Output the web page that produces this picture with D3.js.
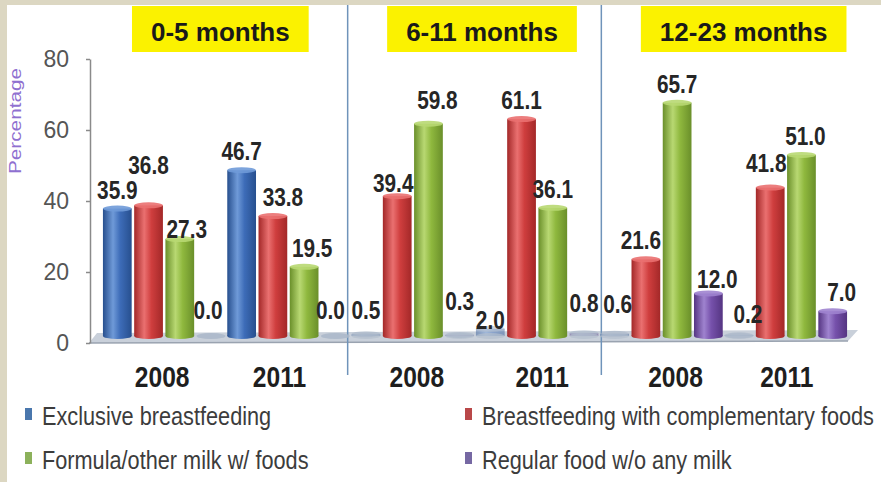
<!DOCTYPE html>
<html>
<head>
<meta charset="utf-8">
<script src="https://cdn.jsdelivr.net/npm/d3@7/dist/d3.min.js"></script>
<style>
  html, body { margin: 0; padding: 0; background: #dcd7c2; }
  svg { display: block; }
</style>
</head>
<body>
<script>
// ---- data ----
const ageGroups = ["0-5 months", "6-11 months", "12-23 months"];
const years = ["2008", "2011", "2008", "2011", "2008", "2011"];
const seriesNames = [
  "Exclusive breastfeeding",
  "Breastfeeding with complementary foods",
  "Formula/other milk w/ foods",
  "Regular food w/o any milk"
];
const exclusiveBf     = [35.9, 46.7, 0.5, 2.0, 0.6, 0.2];
const complementaryBf = [36.8, 33.8, 39.4, 61.1, 21.6, 41.8];
const formulaMilk     = [27.3, 19.5, 59.8, 36.1, 65.7, 51.0];
const regularFood     = [0.0, 0.0, 0.3, 0.8, 12.0, 7.0];
const yTicks = [0, 20, 40, 60, 80];
const yAxisTitle = "Percentage";

const seriesValues = [exclusiveBf, complementaryBf, formulaMilk, regularFood];

// ---- styling ----
const W = 881, H = 482;
const seriesColors = [
  { base: "#3d6cb8", dark: "#274f8e", light: "#6f9ad8" },
  { base: "#cf3e3e", dark: "#a32828", light: "#ea7070" },
  { base: "#8fb83e", dark: "#6a8f2a", light: "#b8d872" },
  { base: "#7651ab", dark: "#553582", light: "#9f83cf" }
];
const legendColors = ["#4a77ad", "#b94849", "#8cb15b", "#7668a3"];
const font = "'Liberation Sans', Arial, sans-serif";

// place a text node with a horizontally condensed face
function condensed(sel, x, yPos, k = 0.82) {
  return sel.attr("x", 0).attr("y", 0)
    .attr("transform", `translate(${x},${yPos}) scale(${k},1)`);
}

const svg = d3.select("body").append("svg")
  .attr("width", W).attr("height", H);

// white panel inside the beige frame
svg.append("rect").attr("x", 7).attr("y", 5).attr("width", W - 7).attr("height", H - 5)
  .attr("fill", "#ffffff");

// cylinder shading gradients
const defs = svg.append("defs");
seriesColors.forEach((c, i) => {
  const g = defs.append("linearGradient").attr("id", "grad" + i)
    .attr("x1", "0%").attr("x2", "100%").attr("y1", "0%").attr("y2", "0%");
  g.append("stop").attr("offset", "0%").attr("stop-color", c.dark);
  g.append("stop").attr("offset", "35%").attr("stop-color", c.light);
  g.append("stop").attr("offset", "60%").attr("stop-color", c.base);
  g.append("stop").attr("offset", "100%").attr("stop-color", c.dark);
});

// ---- scales ----
const groupIdx = d3.range(years.length);
const x0 = d3.scaleBand().domain(groupIdx).range([102, 848]).padding(0);
const x1 = d3.scaleBand().domain(d3.range(seriesNames.length))
  .range([0, x0.bandwidth()]).paddingInner(0.08).paddingOuter(0.03);
const y = d3.scaleLinear().domain([0, 80]).range([336, 52]);
// the value axis sits on the front plane, a little lower than the bars
const yFront = y.copy().range([y(0) + 7, y(80) + 7]);

// ---- floor ----
const fl = x0.range();
svg.append("polygon")
  .attr("points", [[fl[0] - 5, y(0) - 3], [fl[1] + 10, y(0) - 6], [fl[1], y(0) + 5], [fl[0] - 13, y(0) + 7]]
    .map(p => p.join(",")).join(" "))
  .attr("fill", "#c9d0da");
svg.append("line")
  .attr("x1", fl[0] - 13).attr("x2", fl[1]).attr("y1", y(0) + 7).attr("y2", y(0) + 5)
  .attr("stroke", "#9aa3b0").attr("stroke-width", 1.5);

// ---- y axis ----
const axisG = svg.append("g").attr("transform", "translate(90,0)")
  .call(d3.axisLeft(yFront).tickValues(yTicks).tickSize(4).tickSizeOuter(0).tickPadding(17)
    .tickFormat(d3.format("d")));
axisG.select(".domain").attr("stroke", "#8a8a8a").attr("stroke-width", 1.5);
axisG.selectAll(".tick line").attr("stroke", "#8a8a8a").attr("stroke-width", 1.5);
axisG.selectAll(".tick text")
  .attr("font-family", font).attr("font-size", 23).attr("fill", "#555555");

svg.append("text")
  .attr("transform", "translate(21,121) rotate(-90)")
  .attr("text-anchor", "middle")
  .attr("font-family", font).attr("font-size", 16)
  .attr("textLength", 106).attr("lengthAdjust", "spacingAndGlyphs")
  .attr("fill", "#8f70d0")
  .text(yAxisTitle);

// ---- separators between age groups ----
[2, 4].forEach((g, k) => {
  const sx = x0(g) + (k === 0 ? -3 : 2);
  svg.append("line").attr("x1", sx).attr("x2", sx).attr("y1", 5).attr("y2", 375)
    .attr("stroke", "#6f93ba").attr("stroke-width", 1.5);
});

// ---- bars ----
const bars = [];
seriesValues.forEach((vals, s) => {
  vals.forEach((v, g) => bars.push({ s, g, v }));
});
const bw = x1.bandwidth();
const capRy = 3;
const tiny = v => v < 3; // near-floor bars render faint

const barG = svg.append("g");
barG.selectAll("rect.bar").data(bars).join("rect")
  .attr("class", "bar")
  .attr("x", d => x0(d.g) + x1(d.s))
  .attr("y", d => y(d.v))
  .attr("width", bw)
  .attr("height", d => y(0) - y(d.v))
  .attr("fill", d => `url(#grad${d.s})`)
  .attr("opacity", d => tiny(d.v) ? 0.45 : 1);
// rounded base and top caps give the cylinder look
barG.selectAll("ellipse.base").data(bars).join("ellipse")
  .attr("cx", d => x0(d.g) + x1(d.s) + bw / 2)
  .attr("cy", y(0))
  .attr("rx", bw / 2).attr("ry", capRy)
  .attr("fill", d => tiny(d.v) ? "#b4bfcd" : `url(#grad${d.s})`)
  .attr("opacity", d => tiny(d.v) ? 0.7 : 1);
barG.selectAll("ellipse.cap").data(bars).join("ellipse")
  .attr("cx", d => x0(d.g) + x1(d.s) + bw / 2)
  .attr("cy", d => y(d.v))
  .attr("rx", bw / 2).attr("ry", capRy)
  .attr("fill", d => tiny(d.v) ? "#a9b6c8" : seriesColors[d.s].light)
  .attr("opacity", d => tiny(d.v) ? 0.6 : 0.9);

// ---- value labels ----
// small label shifts keep neighbouring labels from colliding
const labelShift = {
  "1-0": [0, -21], "2-0": [7, 9], "3-0": [-3, 0],
  "1-1": [10, 0], "2-1": [8, 0], "3-1": [-5, 0],
  "1-2": [-4, 6], "2-2": [9, -5], "3-2": [0, -9],
  "0-3": [0, 10], "3-3": [0, -7],
  "0-4": [3, -6], "1-4": [-5, 0], "3-4": [9, 5],
  "0-5": [9, 4], "1-5": [-4, -6], "2-5": [4, 0], "3-5": [9, 0]
};
const shiftOf = d => labelShift[d.s + "-" + d.g] || [0, 0];
svg.append("g").selectAll("text").data(bars).join("text")
  .each(function (d) {
    const lx = x0(d.g) + x1(d.s) + bw / 2 + shiftOf(d)[0];
    const ly = Math.min(y(d.v) - 19, y(0) - 26) + 9 + shiftOf(d)[1];
    condensed(d3.select(this), lx, ly, 0.8);
  })
  .attr("text-anchor", "middle")
  .attr("font-family", font).attr("font-weight", "bold").attr("font-size", 26)
  .attr("fill", "#262626")
  .text(d => d3.format(".1f")(d.v));

// ---- year labels ----
const yearShift = [-2, -9, 4, 5, 14, 1];
svg.append("g").selectAll("text").data(groupIdx).join("text")
  .each(function (g) {
    condensed(d3.select(this), x0(g) + x0.bandwidth() / 2 + yearShift[g], 387);
  })
  .attr("text-anchor", "middle")
  .attr("font-family", font).attr("font-weight", "bold").attr("font-size", 30)
  .attr("fill", "#1e1e1e")
  .text(g => years[g]);

// ---- age group headers ----
const headerShift = [-6, 7, 20];
ageGroups.forEach((name, i) => {
  const cx = x0(i * 2 + 1) + headerShift[i];
  const hg = svg.append("g");
  const t = hg.append("text")
    .attr("x", cx).attr("y", 41)
    .attr("text-anchor", "middle")
    .attr("font-family", font).attr("font-weight", "bold").attr("font-size", 26)
    .attr("fill", "#1a1a1a")
    .text(name);
  const bb = t.node().getBBox();
  hg.insert("rect", "text")
    .attr("x", bb.x - 19).attr("y", 6)
    .attr("width", bb.width + 38).attr("height", 46)
    .attr("fill", "#fbf200");
});

// ---- legend ----
const legendPos = [[25, 0], [465, 0], [25, 1], [465, 1]];
const legendG = svg.append("g");
seriesNames.forEach((name, i) => {
  const [lx, row] = legendPos[i];
  const ly = 425 + row * 44;
  legendG.append("rect")
    .attr("x", lx).attr("y", ly - 17).attr("width", 7).attr("height", 12)
    .attr("fill", legendColors[i]);
  condensed(legendG.append("text"), lx + 17, ly, 0.835)
    .attr("font-family", font).attr("font-size", 26)
    .attr("fill", "#3c3c3c")
    .text(name);
});
</script>
</body>
</html>
